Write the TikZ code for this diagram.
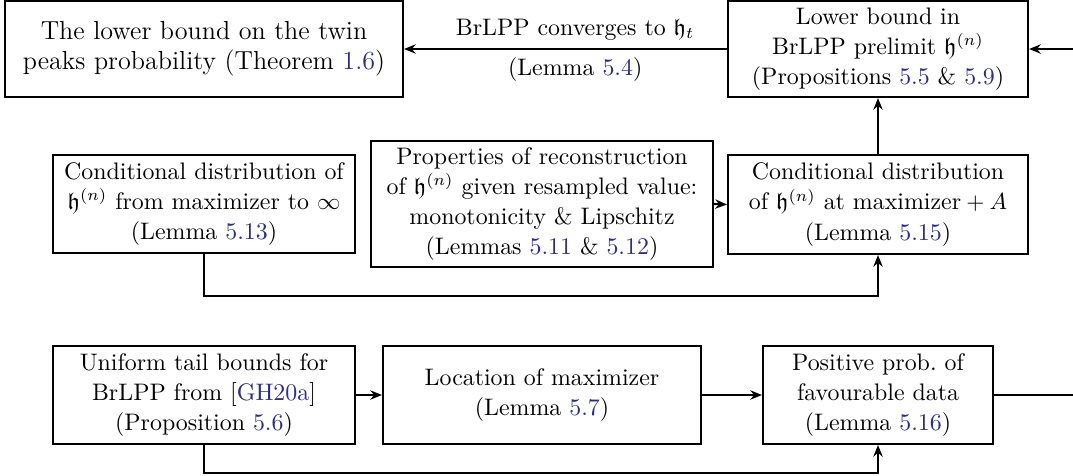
\documentclass[tikz,border=0pt]{standalone}
\usepackage{amssymb}
\usetikzlibrary{arrows.meta}
\definecolor{refblue}{RGB}{45,45,130}
\newcommand{\rf}[1]{\textcolor{refblue}{#1}}
\begin{document}
\begin{tikzpicture}[x=0.4292pt,y=-0.4292pt,
  box/.style={draw, line width=0.9pt, align=center, inner sep=0pt, font=\fontsize{10.25}{13}\selectfont},
  conn/.style={line width=0.9pt},
  arr/.style={conn, -{Stealth[length=5pt,width=4pt]}},
  lbl/.style={font=\fontsize{10.25}{13}\selectfont}]
\useasboundingbox (0,0) rectangle (1073,475);
\node[box, minimum width=170.8pt, minimum height=41.2pt, font=\fontsize{11.2}{13}\selectfont] (thm) at (204,49)
  {The lower bound on the twin\\ peaks probability (Theorem \rf{1.6})};
\node[box, minimum width=128.8pt, minimum height=41.2pt] (B) at (878,49)
  {Lower bound in\\ BrLPP prelimit $\mathfrak{h}^{(n)}$\\ (Propositions \rf{5.5} \& \rf{5.9})};
\node[box, minimum width=129.6pt, minimum height=42pt] (C1) at (204,204)
  {Conditional distribution of\\ $\mathfrak{h}^{(n)}$ from maximizer to $\infty$\\ (Lemma \rf{5.13})};
\node[box, minimum width=146.8pt, minimum height=54pt] (C2) at (542,204)
  {Properties of reconstruction\\ of $\mathfrak{h}^{(n)}$ given resampled value:\\ monotonicity \& Lipschitz\\ (Lemmas \rf{5.11} \& \rf{5.12})};
\node[box, minimum width=128.8pt, minimum height=42.5pt] (C3) at (878,204.5)
  {Conditional distribution\\ of $\mathfrak{h}^{(n)}$ at maximizer${}+A$\\ (Lemma \rf{5.15})};
\node[box, minimum width=129.6pt, minimum height=42pt] (D1) at (204,395)
  {Uniform tail bounds for\\ BrLPP from [\rf{GH20a}]\\ (Proposition \rf{5.6})};
\node[box, minimum width=136.5pt, minimum height=42pt] (D2) at (542,395)
  {Location of maximizer\\ (Lemma \rf{5.7})};
\node[box, minimum width=98.7pt, minimum height=42pt] (D3) at (878,395)
  {Positive prob.\ of\\ favourable data\\ (Lemma \rf{5.16})};
\coordinate (rin) at (1073,49);
\coordinate (rout) at (1073,395);
\draw[arr] (rin) -- (B.east);
\draw[arr] (B.west) -- node[lbl, pos=0.47, above]{BrLPP converges to $\mathfrak{h}_t$}
  node[lbl, pos=0.47, below]{(Lemma \rf{5.4})} (thm.east);
\draw[arr] (C3.north) -- (B.south);
\draw[arr] (C2.east) -- (C3.west);
\draw[arr] (C1.south) -- ++(0,42) -| (C3.south);
\draw[arr] (D1.east) -- (D2.west);
\draw[arr] (D2.east) -- (D3.west);
\draw[conn] (D3.east) -- (rout);
\draw[arr] (D1.south) -- ++(0,28) -| (D3.south);
\end{tikzpicture}
\end{document}
